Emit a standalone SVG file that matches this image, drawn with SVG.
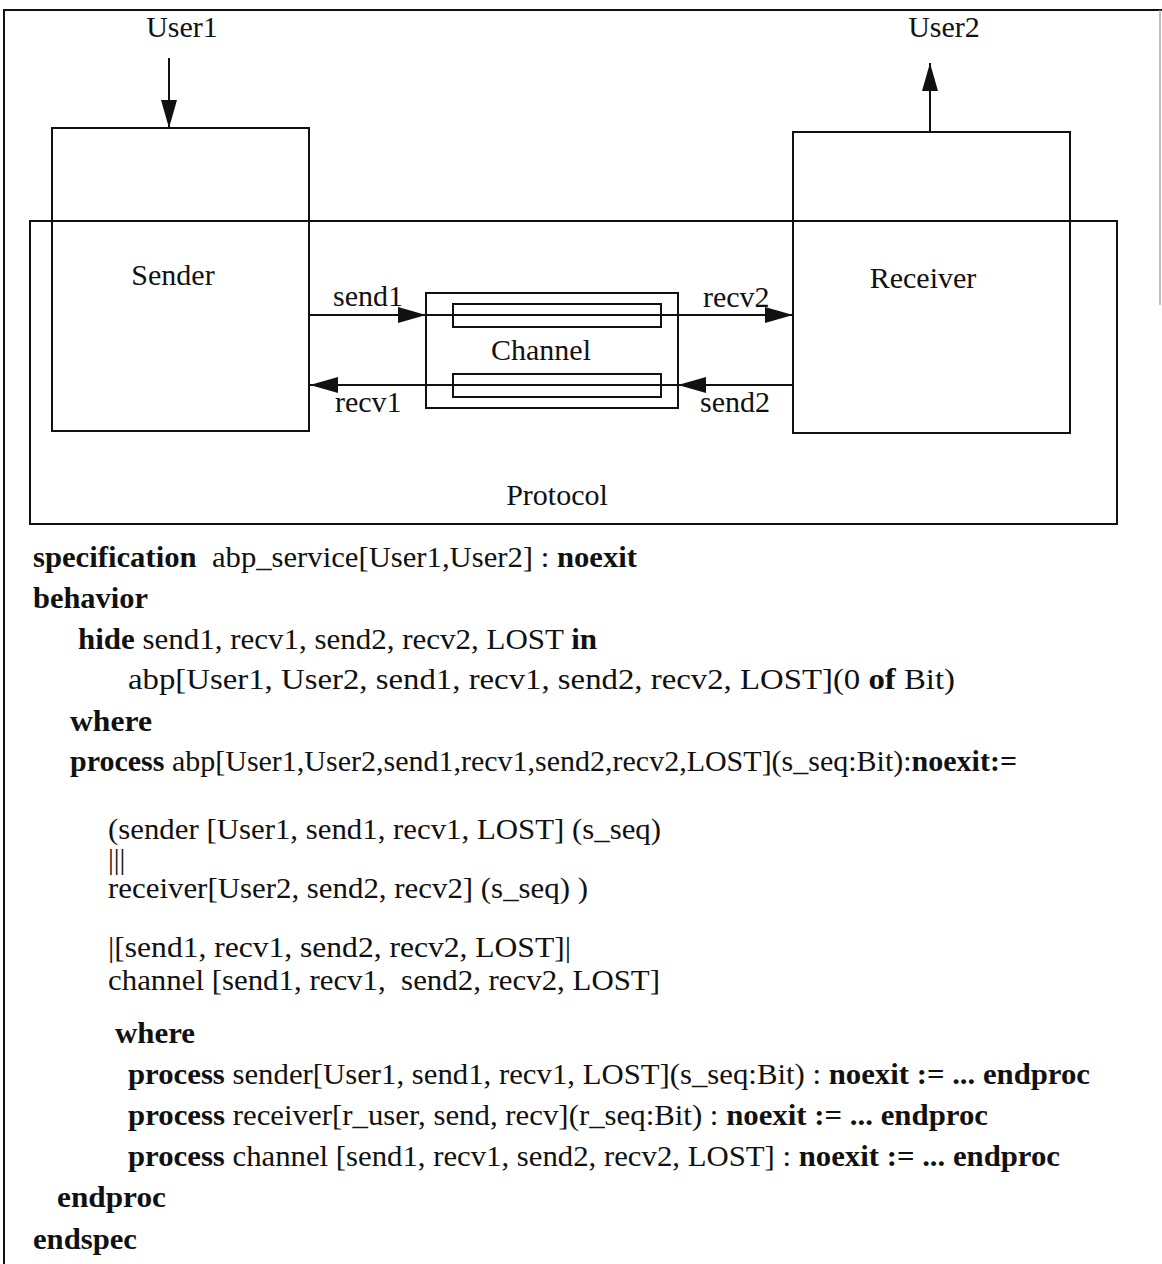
<svg xmlns="http://www.w3.org/2000/svg" width="1162" height="1264" viewBox="0 0 1162 1264">
<defs>
<style>
.box{fill:none;stroke:#111;stroke-width:2}
.ln{fill:none;stroke:#111;stroke-width:2}
.t{font-family:"Liberation Serif","Times New Roman",serif;font-size:30px;fill:#111}
.c{font-family:"Liberation Serif","Times New Roman",serif;font-size:29px;fill:#111}
.b{font-weight:bold}
</style>
<marker id="ah" markerUnits="userSpaceOnUse" markerWidth="30" markerHeight="18" refX="28" refY="8" orient="auto">
<path d="M0,0 L28,8 L0,16 z" fill="#111"/>
</marker>
</defs>
<rect width="1162" height="1264" fill="#fff"/>
<g id="frame">
<polyline class="ln" points="4,1264 4,10 1162,10"/>
<line x1="1160" y1="10" x2="1160" y2="305" stroke="#aaa" stroke-width="1.5"/>
</g>
<g id="protocol">
<rect class="box" x="30" y="221" width="1087" height="303"/>
<text class="t" x="557" y="505" text-anchor="middle">Protocol</text>
</g>
<g id="sender">
<rect class="box" x="52" y="128" width="257" height="303" fill="#fff"/>
<text class="t" x="173" y="285" text-anchor="middle">Sender</text>
</g>
<g id="receiver">
<rect class="box" x="793" y="132" width="277" height="301"/>
<text class="t" x="923" y="288" text-anchor="middle">Receiver</text>
</g>
<g id="channel">
<rect class="box" x="426" y="293" width="252" height="115"/>
<rect class="box" x="453" y="304" width="208" height="23"/>
<rect class="box" x="453" y="374" width="208" height="23"/>
<text class="t" x="541" y="360" text-anchor="middle">Channel</text>
</g>
<g id="user1">
<text class="t" x="182" y="37" text-anchor="middle">User1</text>
</g>
<g id="user2">
<text class="t" x="944" y="37" text-anchor="middle">User2</text>
</g>
<g id="connectors">
<line class="ln" x1="169" y1="58" x2="169" y2="128" marker-end="url(#ah)"/>
<line class="ln" x1="930" y1="132" x2="930" y2="63" marker-end="url(#ah)"/>
<line class="ln" x1="310" y1="315" x2="426" y2="315" marker-end="url(#ah)"/>
<line class="ln" x1="426" y1="315" x2="793" y2="315" marker-end="url(#ah)"/>
<line class="ln" x1="793" y1="385" x2="678" y2="385" marker-end="url(#ah)"/>
<line class="ln" x1="678" y1="385" x2="310" y2="385" marker-end="url(#ah)"/>
<text class="t" x="333" y="306">send1</text>
<text class="t" x="703" y="307">recv2</text>
<text class="t" x="335" y="412">recv1</text>
<text class="t" x="700" y="412">send2</text>
</g>
<g id="spec">
<text class="c" x="33" y="567" textLength="604" lengthAdjust="spacingAndGlyphs" xml:space="preserve"><tspan class="b">specification</tspan>  abp_service[User1,User2] : <tspan class="b">noexit</tspan></text>
<text class="c b" x="33" y="608" textLength="115" lengthAdjust="spacingAndGlyphs">behavior</text>
<text class="c" x="78" y="649" textLength="519" lengthAdjust="spacingAndGlyphs"><tspan class="b">hide</tspan> send1, recv1, send2, recv2, LOST <tspan class="b">in</tspan></text>
<text class="c" x="128" y="689" textLength="827" lengthAdjust="spacingAndGlyphs">abp[User1, User2, send1, recv1, send2, recv2, LOST](0 <tspan class="b">of</tspan> Bit)</text>
<text class="c b" x="70" y="731" textLength="82" lengthAdjust="spacingAndGlyphs">where</text>
<text class="c" x="70" y="771" textLength="947" lengthAdjust="spacingAndGlyphs"><tspan class="b">process</tspan> abp[User1,User2,send1,recv1,send2,recv2,LOST](s_seq:Bit):<tspan class="b">noexit:=</tspan></text>
<text class="c" x="108" y="839" textLength="553" lengthAdjust="spacingAndGlyphs">(sender [User1, send1, recv1, LOST] (s_seq)</text>
<text class="c" x="108" y="869">|||</text>
<text class="c" x="108" y="898" textLength="480" lengthAdjust="spacingAndGlyphs">receiver[User2, send2, recv2] (s_seq) )</text>
<text class="c" x="108" y="957" textLength="463" lengthAdjust="spacingAndGlyphs">|[send1, recv1, send2, recv2, LOST]|</text>
<text class="c" x="108" y="990" textLength="552" lengthAdjust="spacingAndGlyphs" xml:space="preserve">channel [send1, recv1,  send2, recv2, LOST]</text>
<text class="c b" x="115" y="1043" textLength="80" lengthAdjust="spacingAndGlyphs">where</text>
<text class="c" x="128" y="1084" textLength="962" lengthAdjust="spacingAndGlyphs"><tspan class="b">process</tspan> sender[User1, send1, recv1, LOST](s_seq:Bit) : <tspan class="b">noexit := ... endproc</tspan></text>
<text class="c" x="128" y="1125" textLength="860" lengthAdjust="spacingAndGlyphs"><tspan class="b">process</tspan> receiver[r_user, send, recv](r_seq:Bit) : <tspan class="b">noexit := ... endproc</tspan></text>
<text class="c" x="128" y="1166" textLength="932" lengthAdjust="spacingAndGlyphs"><tspan class="b">process</tspan> channel [send1, recv1, send2, recv2, LOST] : <tspan class="b">noexit := ... endproc</tspan></text>
<text class="c b" x="57" y="1207" textLength="109" lengthAdjust="spacingAndGlyphs">endproc</text>
<text class="c b" x="33" y="1249" textLength="104" lengthAdjust="spacingAndGlyphs">endspec</text>
</g>
</svg>
